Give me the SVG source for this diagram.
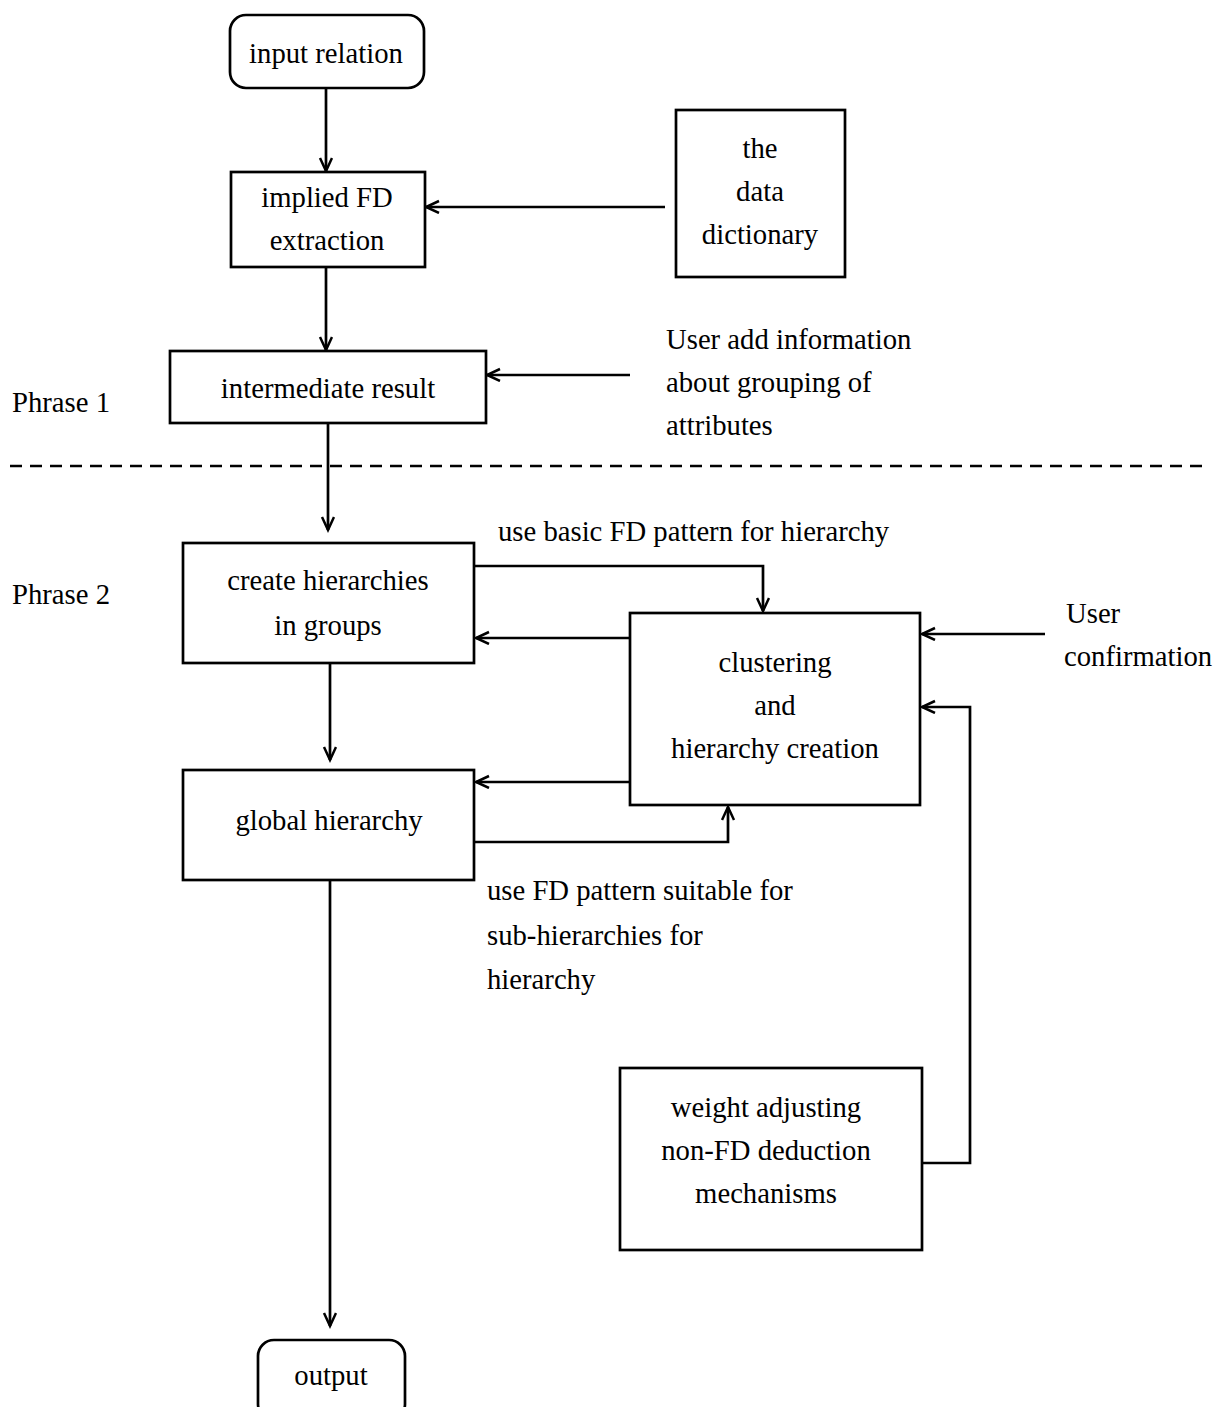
<svg xmlns="http://www.w3.org/2000/svg" width="1217" height="1407" viewBox="0 0 1217 1407">
<style>
.box{fill:#fff;stroke:#000;stroke-width:2.7}
.ln{fill:none;stroke:#000;stroke-width:2.7}
text{font-family:"Liberation Serif","Times New Roman",serif;font-size:28.7px;fill:#000}
.c{text-anchor:middle}
</style>
<defs>
<marker id="ah" markerUnits="userSpaceOnUse" markerWidth="20" markerHeight="20" refX="14" refY="7" orient="auto">
<path d="M1,1 L14,7 L1,13" fill="none" stroke="#000" stroke-width="2.5"/>
</marker>
</defs>
<rect width="1217" height="1407" fill="#fff"/>
<g id="connectors">
<line class="ln" x1="326" y1="88" x2="326" y2="171" marker-end="url(#ah)"/>
<line class="ln" x1="665" y1="207" x2="426" y2="207" marker-end="url(#ah)"/>
<line class="ln" x1="326" y1="267" x2="326" y2="350" marker-end="url(#ah)"/>
<line class="ln" x1="630" y1="375" x2="487" y2="375" marker-end="url(#ah)"/>
<line class="ln" x1="328" y1="423" x2="328" y2="530" marker-end="url(#ah)"/>
<polyline class="ln" points="474,566 763,566 763,611" marker-end="url(#ah)"/>
<line class="ln" x1="630" y1="638" x2="476" y2="638" marker-end="url(#ah)"/>
<line class="ln" x1="1045" y1="634" x2="922" y2="634" marker-end="url(#ah)"/>
<line class="ln" x1="330" y1="663" x2="330" y2="760" marker-end="url(#ah)"/>
<line class="ln" x1="630" y1="782" x2="476" y2="782" marker-end="url(#ah)"/>
<polyline class="ln" points="474,842 728,842 728,807" marker-end="url(#ah)"/>
<line class="ln" x1="330" y1="880" x2="330" y2="1326" marker-end="url(#ah)"/>
<polyline class="ln" points="922,1163 970,1163 970,707 922,707" marker-end="url(#ah)"/>
<line x1="10" y1="466" x2="1207" y2="466" stroke="#000" stroke-width="2.5" stroke-dasharray="12,8"/>
</g>
<g id="n-input"><rect class="box" x="230" y="15" width="194" height="73" rx="16"/><text class="c" x="326" y="63">input relation</text></g>
<g id="n-implied"><rect class="box" x="231" y="172" width="194" height="95"/><text class="c" x="327" y="207">implied FD</text><text class="c" x="327" y="250">extraction</text></g>
<g id="n-dict"><rect class="box" x="676" y="110" width="169" height="167"/><text class="c" x="760" y="158">the</text><text class="c" x="760" y="201">data</text><text class="c" x="760" y="244">dictionary</text></g>
<g id="l-user-add"><text x="666" y="349">User add information</text><text x="666" y="392">about grouping of</text><text x="666" y="435">attributes</text></g>
<g id="l-phrase1"><text x="12" y="412">Phrase 1</text></g>
<g id="n-intermediate"><rect class="box" x="170" y="351" width="316" height="72"/><text class="c" x="328" y="398">intermediate result</text></g>
<g id="l-basic"><text x="498" y="541">use basic FD pattern for hierarchy</text></g>
<g id="l-phrase2"><text x="12" y="604">Phrase 2</text></g>
<g id="n-create"><rect class="box" x="183" y="543" width="291" height="120"/><text class="c" x="328" y="590">create hierarchies</text><text class="c" x="328" y="635">in groups</text></g>
<g id="l-user-conf"><text x="1066" y="623">User</text><text x="1064" y="666">confirmation</text></g>
<g id="n-cluster"><rect class="box" x="630" y="613" width="290" height="192"/><text class="c" x="775" y="672">clustering</text><text class="c" x="775" y="715">and</text><text class="c" x="775" y="758">hierarchy creation</text></g>
<g id="n-global"><rect class="box" x="183" y="770" width="291" height="110"/><text class="c" x="329" y="830">global hierarchy</text></g>
<g id="l-fd-suitable"><text x="487" y="900">use FD pattern suitable for</text><text x="487" y="945">sub-hierarchies for</text><text x="487" y="989">hierarchy</text></g>
<g id="n-weight"><rect class="box" x="620" y="1068" width="302" height="182"/><text class="c" x="766" y="1117">weight adjusting</text><text class="c" x="766" y="1160">non-FD deduction</text><text class="c" x="766" y="1203">mechanisms</text></g>
<g id="n-output"><rect class="box" x="258" y="1340" width="147" height="80" rx="16"/><text class="c" x="331" y="1385">output</text></g>
</svg>
